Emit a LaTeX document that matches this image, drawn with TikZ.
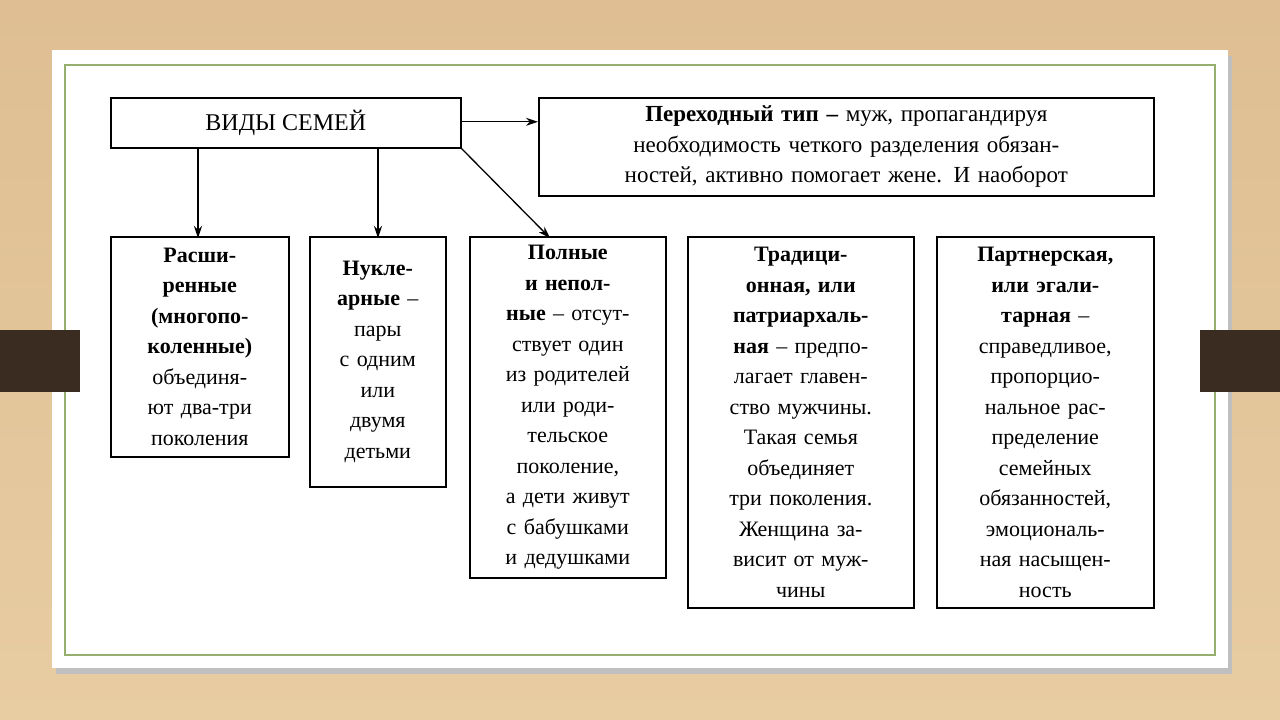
\documentclass[tikz,border=0pt]{standalone}
\usepackage{fontspec}
\setmainfont{Liberation Serif}
\usetikzlibrary{arrows.meta}
\definecolor{wood}{RGB}{232,204,162}
\definecolor{woodd}{RGB}{222,190,146}
\definecolor{brownbar}{RGB}{58,44,32}
\definecolor{frame}{RGB}{150,175,110}
\tikzset{
  box/.style={draw=black,line width=1.6pt,anchor=north west,inner sep=0pt,align=center,
     font=\fontsize{22}{30.5}\selectfont},
  arr/.style={-{Stealth[length=12pt,width=8pt]},line width=1.3pt}
}
\begin{document}
\begin{tikzpicture}[x=1pt,y=-1pt]
\useasboundingbox (0,0) rectangle (1280,720);
\shade[top color=woodd,bottom color=wood] (0,0) rectangle (1280,720);
\fill[black!25] (56,56) rectangle (1232,674);
\fill[white] (52,50) rectangle (1228,668);
\draw[frame,line width=1.2pt] (65,65) rectangle (1215,655);
\fill[brownbar] (0,330) rectangle (80,392);
\fill[brownbar] (1200,330) rectangle (1280,392);
\node[box,minimum width=350pt,minimum height=50pt,font=\fontsize{24}{30}\selectfont] (root) at (110,97) {ВИДЫ СЕМЕЙ};
\node[box,minimum width=615pt,minimum height=98pt,text width=605pt,font=\fontsize{23}{30.5}\selectfont] (tr) at (538,97)
 {\textbf{Переходный тип –} муж, пропагандируя\\необходимость четкого разделения обязан-\\ностей, активно помогает жене. И наоборот};
\node[box,minimum width=178pt,minimum height=220pt,text width=176pt] (b1) at (110,236)
 {\textbf{Расши-}\\\textbf{ренные}\\\textbf{(многопо-}\\\textbf{коленные)}\\объединя-\\ют два-три\\поколения};
\node[box,minimum width=136pt,minimum height=250pt,text width=134pt] (b2) at (309,236)
 {\textbf{Нукле-}\\\textbf{арные} –\\пары\\с одним\\или\\двумя\\детьми};
\node[box,minimum width=196pt,minimum height=341pt,text width=194pt] (b3) at (469,236)
 {\textbf{Полные}\\\textbf{и непол-}\\\textbf{ные} – отсут-\\ствует один\\из родителей\\или роди-\\тельское\\поколение,\\а дети живут\\с бабушками\\и дедушками};
\node[box,minimum width=226pt,minimum height=371pt,text width=224pt] (b4) at (687,236)
 {\textbf{Традици-}\\\textbf{онная, или}\\\textbf{патриархаль-}\\\textbf{ная} – предпо-\\лагает главен-\\ство мужчины.\\Такая семья\\объединяет\\три поколения.\\Женщина за-\\висит от муж-\\чины};
\node[box,minimum width=217pt,minimum height=371pt,text width=215pt] (b5) at (936,236)
 {\textbf{Партнерская,}\\\textbf{или эгали-}\\\textbf{тарная} –\\справедливое,\\пропорцио-\\нальное рас-\\пределение\\семейных\\обязанностей,\\эмоциональ-\\ная насыщен-\\ность};
\draw[arr] ([xshift=88pt]root.south west) coordinate (s1) -- ([yshift=-2pt]s1 |- b1.north);
\draw[arr] ([xshift=268pt]root.south west) coordinate (s2) -- ([yshift=-2pt]s2 |- b2.north);
\draw[arr] (root.south east) -- ([xshift=81pt,yshift=-2pt]b3.north west);
\draw[arr] ([yshift=1pt]root.east) -- ([yshift=1pt]root.east -| tr.west);
\end{tikzpicture}
\end{document}
